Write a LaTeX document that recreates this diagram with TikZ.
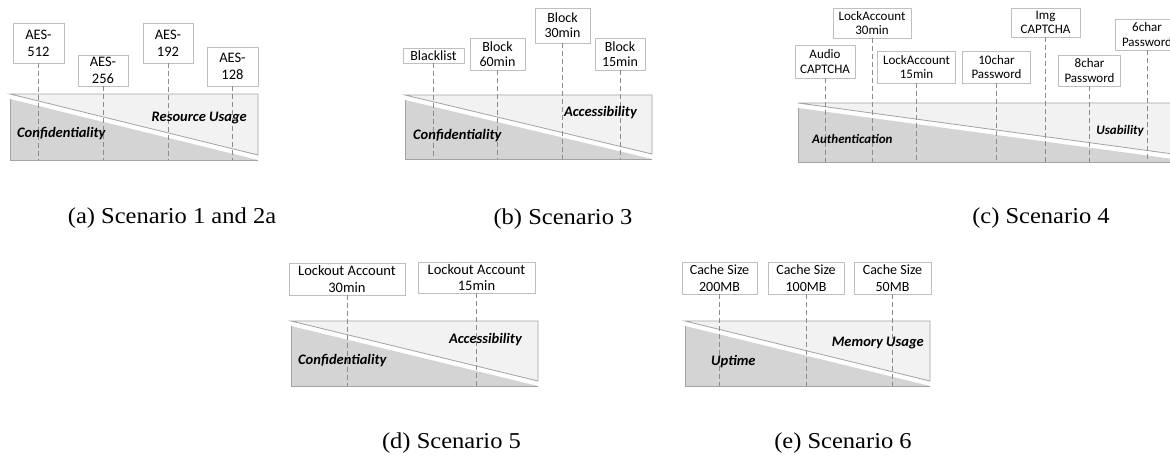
\documentclass[tikz,border=0pt]{standalone}
\usepackage{fontspec}
\newfontfamily\calfont{Carlito}
\newfontfamily\capfont[FakeStretch=1.08]{Liberation Serif}
\definecolor{lightfill}{HTML}{F2F2F2}
\definecolor{darkfill}{HTML}{D4D4D4}
\definecolor{bordergray}{HTML}{A3A3A3}
\definecolor{boxgray}{HTML}{BFBFBF}
\definecolor{dashgray}{HTML}{8C8C8C}
\newcommand{\tradeoff}[4]{%
  \fill[lightfill] (#1,#2) -- (#3,#2) -- (#3,#4-5) -- cycle;
  \fill[darkfill] (#1,#2+5) -- (#3,#4) -- (#1,#4) -- cycle;
  \draw[bordergray, line width=0.8pt] (#1,#2) -- (#3,#2) -- (#3,#4-5) -- cycle;
  \draw[bordergray, line width=0.8pt] (#1,#2+5) -- (#1,#4) -- (#3,#4);
}
\tikzset{
  lbox/.style={draw=boxgray, fill=white, line width=0.8pt, inner sep=0pt, align=center},
  fa/.style={font=\calfont\fontsize{14.5}{16.7}\selectfont},
  fb/.style={font=\calfont\fontsize{14}{15}\selectfont},
  fc/.style={font=\calfont\fontsize{13}{14.7}\selectfont},
  fd/.style={font=\calfont\fontsize{14.5}{16.7}\selectfont},
  fe/.style={font=\calfont\fontsize{14}{17}\selectfont},
  dline/.style={draw=dashgray, dash pattern=on 5pt off 3pt, line width=0.7pt},
  lbl/.style={font=\calfont\bfseries\itshape\fontsize{14.5}{16}\selectfont, inner sep=0pt},
  lblc/.style={font=\calfont\bfseries\itshape\fontsize{13}{15}\selectfont, inner sep=0pt},
  captext/.style={font=\capfont\fontsize{22.7}{26}\selectfont, inner sep=0pt, anchor=base},
}
\begin{document}
\begin{tikzpicture}[x=1pt, y=-1pt]
\useasboundingbox (0,0) rectangle (1170,458);
\clip (0,0) rectangle (1170,458);
\fill[white] (0,0) rectangle (1170,458);

% ---------- (a)
\tradeoff{10}{94}{258}{160}
\coordinate (abot) at (10,160);
\node[lbox, fa, minimum width=51, minimum height=40] (a1) at (38.5,43) {AES-\\512};
\node[lbox, fa, minimum width=50, minimum height=31] (a2) at (103,70.5) {AES-\\256};
\node[lbox, fa, minimum width=50, minimum height=40] (a3) at (168,43) {AES-\\192};
\node[lbox, fa, minimum width=51, minimum height=39] (a4) at (232.5,66.5) {AES-\\128};
\foreach \n in {a1,a2,a3,a4} \draw[dline] (\n) -- (\n |- abot);
\node[lbl, anchor=west] (aconf) at (17,134) {Confidentiality};
\node[lbl, anchor=east] (ares) at (247,118) {Resource Usage};
\node[captext] (acap) at (172,223) {(a) Scenario 1 and 2a};

% ---------- (b)
\tradeoff{405}{95}{652}{159}
\coordinate (bbot) at (405,159);
\node[lbox, fb, minimum width=61, minimum height=15] (b1) at (433.5,55.5) {Blacklist};
\node[lbox, fb, minimum width=55, minimum height=32] (b2) at (497.5,54) {Block\\60min};
\node[lbox, fb, minimum width=55, minimum height=35] (b3) at (562.5,25.5) {Block\\30min};
\node[lbox, fb, minimum width=50, minimum height=32] (b4) at (620,54) {Block\\15min};
\foreach \n in {b1,b2,b3,b4} \draw[dline] (\n) -- (\n |- bbot);
\node[lbl, anchor=west] (bconf) at (413,136) {Confidentiality};
\node[lbl, anchor=east] (bacc) at (637,113) {Accessibility};
\node[captext] (bcap) at (563,224) {(b) Scenario 3};

% ---------- (c)
\tradeoff{798}{103}{1195}{162}
\coordinate (cbot) at (798,162);
\node[lbox, fc, minimum width=60, minimum height=33] (c1) at (825,61.5) {Audio\\CAPTCHA};
\node[lbox, fc, minimum width=78, minimum height=30] (c2) at (872,23) {LockAccount\\30min};
\node[lbox, fc, minimum width=78, minimum height=32] (c3) at (916.5,67) {LockAccount\\15min};
\node[lbox, fc, minimum width=68, minimum height=32] (c4) at (996.5,67) {10char\\Password};
\node[lbox, fc, minimum width=69, minimum height=29] (c5) at (1045.5,22.5) {Img\\CAPTCHA};
\node[lbox, fc, minimum width=62, minimum height=31] (c6) at (1089.5,70.5) {8char\\Password};
\node[lbox, fc, minimum width=64, minimum height=31] (c7) at (1147,34.5) {6char\\Password};
\foreach \n in {c1,c2,c3,c4,c5,c6,c7} \draw[dline] (\n) -- (\n |- cbot);
\node[lblc, anchor=west] (cauth) at (812,139) {Authentication};
\node[lblc, anchor=east] (cusa) at (1144,131) {Usability};
\node[captext] (ccap) at (1041,223) {(c) Scenario 4};

% ---------- (d)
\tradeoff{291}{321}{538}{386}
\coordinate (dbot) at (291,386);
\node[lbox, fd, minimum width=116, minimum height=32] (d1) at (347,279) {Lockout Account\\30min};
\node[lbox, fd, minimum width=117, minimum height=31] (d2) at (476.5,277.5) {Lockout Account\\15min};
\foreach \n in {d1,d2} \draw[dline] (\n) -- (\n |- dbot);
\node[lbl, anchor=west] (dconf) at (298,361) {Confidentiality};
\node[lbl, anchor=east] (dacc) at (522,340) {Accessibility};
\node[captext] (dcap) at (451.5,448) {(d) Scenario 5};

% ---------- (e)
\tradeoff{685}{321}{930}{386}
\coordinate (ebot) at (685,386);
\node[lbox, fe, minimum width=75, minimum height=32] (e1) at (719.5,278) {Cache Size\\200MB};
\node[lbox, fe, minimum width=76, minimum height=32] (e2) at (806,278) {Cache Size\\100MB};
\node[lbox, fe, minimum width=77, minimum height=32] (e3) at (892.5,278) {Cache Size\\50MB};
\foreach \n in {e1,e2,e3} \draw[dline] (\n) -- (\n |- ebot);
\node[lbl, anchor=west] (eup) at (711,362) {Uptime};
\node[lbl, anchor=east] (emem) at (924,343) {Memory Usage};
\node[captext] (ecap) at (843,448) {(e) Scenario 6};
\end{tikzpicture}
\end{document}
